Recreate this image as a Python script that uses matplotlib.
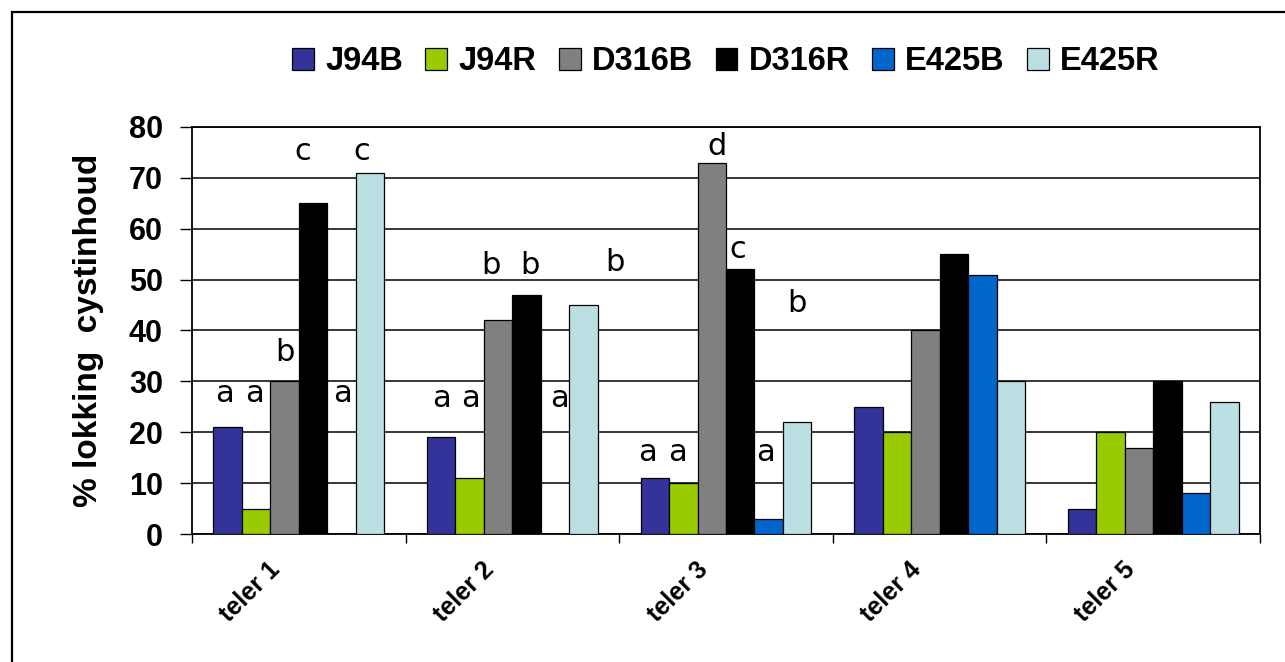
import matplotlib
matplotlib.use("Agg")
import matplotlib.pyplot as plt
import matplotlib.transforms as mtransforms
from matplotlib.patches import Rectangle
import numpy as np

# data
telers = ["teler 1", "teler 2", "teler 3", "teler 4", "teler 5"]
series = ["J94B", "J94R", "D316B", "D316R", "E425B", "E425R"]
j94b = [21, 19, 11, 25, 5]
j94r = [5, 11, 10, 20, 20]
d316b = [30, 42, 73, 40, 17]
d316r = [65, 47, 52, 55, 30]
e425b = [0, 0, 3, 51, 8]
e425r = [71, 45, 22, 30, 26]
colors = ["#333399", "#99CC00", "#808080", "#000000", "#0066CC", "#BBE0E3"]

# significance letters: (teler, series, letter, height)
letters = [
    (0, 0, "a", 26), (0, 1, "a", 26), (0, 2, "b", 34), (0, 3, "c", 73.5), (0, 4, "a", 26), (0, 5, "c", 73.5),
    (1, 0, "a", 25), (1, 1, "a", 25), (1, 2, "b", 51.2), (1, 3, "b", 51.2), (1, 4, "a", 25), (1, 5, "b", 51.6),
    (2, 0, "a", 14.4), (2, 1, "a", 14.4), (2, 2, "d", 74.5), (2, 3, "c", 54.2), (2, 4, "a", 14.4), (2, 5, "b", 43.7),
]
# small horizontal nudges of the letters (in bar widths)
letter_dx = [-0.12, -0.07, 0, -0.35, 0.05, -0.28,
             0, 0.03, -0.26, 0.12, 0.14, 1.1,
             -0.24, -0.22, 0.18, -0.1, -0.1, 0]

values = [j94b, j94r, d316b, d316r, e425b, e425r]

fig = plt.figure(figsize=(12.85, 6.62), dpi=100)
ax = fig.add_axes([192 / 1285, 1 - 534 / 662, 1068 / 1285, 407 / 662])

x = np.arange(len(telers))
w = 1 / 7.5
for i, (name, vals) in enumerate(zip(series, values)):
    ax.bar(x + (i - 2.5) * w, vals, width=w, color=colors[i], edgecolor="black",
           linewidth=0.9, label=name, zorder=3)

for (g, s, txt, yv), dx in zip(letters, letter_dx):
    ax.text(g + (s - 2.5 + dx) * w, yv, txt, ha="center", va="baseline",
            fontsize=22, family="DejaVu Sans", zorder=4)

ax.set_xlim(-0.5, len(telers) - 0.5)
ax.set_ylim(0, 80)
ax.set_yticks(range(0, 81, 10))
ax.set_yticklabels([str(v) for v in range(0, 81, 10)], fontsize=22, fontweight="bold",
                   family="Liberation Sans")
ax.yaxis.grid(True, color="black", linewidth=1.1, zorder=0)
ax.tick_params(axis="y", direction="out", length=9, width=1, pad=12)

ax.set_xticks(np.arange(-0.5, len(telers), 1))
ax.set_xticklabels([])
ax.tick_params(axis="x", direction="out", length=6.5, width=1)

# rotated category labels
lab_tr = mtransforms.offset_copy(ax.get_xaxis_transform(), fig=fig, x=-22, y=-17, units="points")
for i, t in enumerate(telers):
    ax.text(i, 0, t, transform=lab_tr, rotation=45, rotation_mode="anchor",
            ha="right", va="top", fontsize=18, fontweight="bold", family="Liberation Sans")

for sp in ax.spines.values():
    sp.set_linewidth(1.3)
    sp.set_color("black")

ax.set_ylabel("% lokking  cystinhoud", fontsize=24, fontweight="bold", family="Liberation Sans")
ax.yaxis.set_label_coords(-0.082, 0.5)

leg = fig.legend(loc="center", bbox_to_anchor=(0.565, 1 - 62 / 662), ncol=6, frameon=False,
                 prop={"family": "Liberation Sans", "weight": "bold", "size": 23.5},
                 handlelength=0.67, handleheight=0.66, handletextpad=0.34, columnspacing=0.69)

# outer chart border
fig.patches.append(Rectangle((12 / 1285, -0.1), 1.2, 1 - 12 / 662 + 0.1, transform=fig.transFigure,
                             fill=False, edgecolor="black", linewidth=1.6))

fig.savefig("out.png", dpi=100)
